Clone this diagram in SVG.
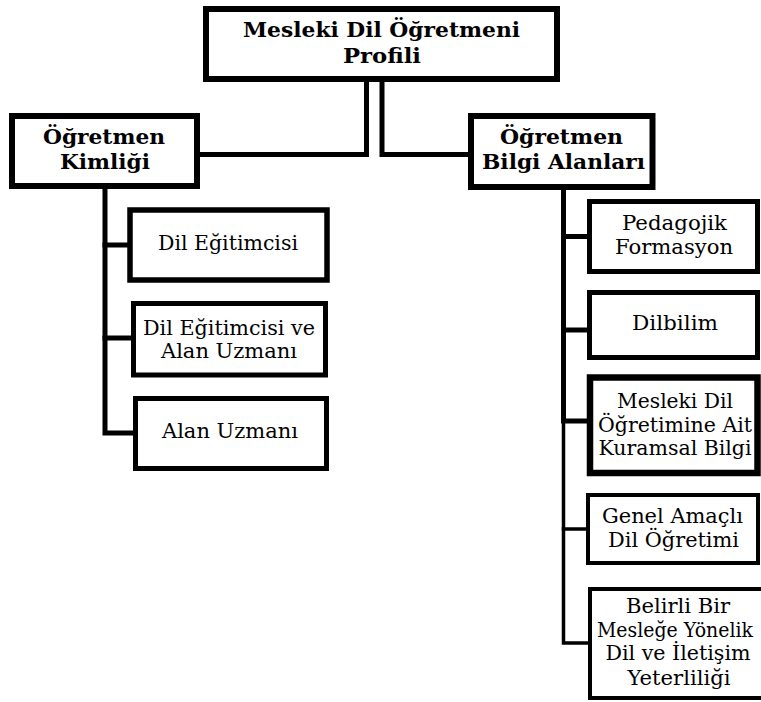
<svg xmlns="http://www.w3.org/2000/svg" width="761" height="702" viewBox="0 0 761 702">
<style>
  .box { fill: #ffffff; stroke: #000000; }
  .t { font-family: "DejaVu Serif", "Liberation Serif", serif; font-size: 21px; fill: #000000; text-anchor: middle; }
  .b { font-weight: bold; }
  .c { fill: none; stroke: #000000; stroke-linejoin: miter; stroke-linecap: square; }
</style>
<rect width="761" height="702" fill="#ffffff"/>
<g id="connectors">
  <polyline class="c" stroke-width="5" points="366.5,82 366.5,154.5 200,154.5"/>
  <polyline class="c" stroke-width="5" points="382,82 382,154.5 468,154.5"/>
  <polyline class="c" stroke-width="5" points="105,189 105,433 133,433"/>
  <line class="c" stroke-width="5" x1="105" y1="245" x2="127" y2="245"/>
  <line class="c" stroke-width="5" x1="105" y1="338" x2="131" y2="338"/>
  <polyline class="c" stroke-width="5" points="563.5,190 563.5,421 587,421"/>
  <line class="c" stroke-width="5" x1="563.5" y1="236.5" x2="587" y2="236.5"/>
  <line class="c" stroke-width="5" x1="563.5" y1="330" x2="587" y2="330"/>
  <polyline class="c" stroke-width="3.5" points="563.5,421 563.5,643 588,643"/>
  <line class="c" stroke-width="3.5" x1="563.5" y1="529" x2="586" y2="529"/>
</g>
<g id="root">
  <rect class="box" stroke-width="6" x="206" y="9" width="351" height="70"/>
  <text class="t b" x="381.5" y="37" textLength="277" lengthAdjust="spacingAndGlyphs">Mesleki Dil Öğretmeni</text>
  <text class="t b" x="382" y="63" textLength="78" lengthAdjust="spacingAndGlyphs">Profili</text>
</g>
<g id="ogretmen-kimligi">
  <rect class="box" stroke-width="6" x="12" y="116" width="185" height="70"/>
  <text class="t b" x="104" y="144" textLength="122" lengthAdjust="spacingAndGlyphs">Öğretmen</text>
  <text class="t b" x="105" y="169" textLength="90" lengthAdjust="spacingAndGlyphs">Kimliği</text>
</g>
<g id="dil-egitimcisi">
  <rect class="box" stroke-width="5.5" x="130" y="210" width="197" height="70"/>
  <text class="t" x="228" y="250" textLength="140" lengthAdjust="spacingAndGlyphs">Dil Eğitimcisi</text>
</g>
<g id="dil-egitimcisi-ve-alan-uzmani">
  <rect class="box" stroke-width="5" x="133.5" y="303.5" width="192" height="71.5"/>
  <text class="t" x="229" y="335" textLength="172" lengthAdjust="spacingAndGlyphs">Dil Eğitimcisi ve</text>
  <text class="t" x="229" y="358" textLength="136" lengthAdjust="spacingAndGlyphs">Alan Uzmanı</text>
</g>
<g id="alan-uzmani">
  <rect class="box" stroke-width="5" x="135.5" y="398.5" width="191" height="70"/>
  <text class="t" x="230" y="438" textLength="136" lengthAdjust="spacingAndGlyphs">Alan Uzmanı</text>
</g>
<g id="ogretmen-bilgi-alanlari">
  <rect class="box" stroke-width="6" x="471" y="116" width="181.5" height="71"/>
  <text class="t b" x="561.5" y="144" textLength="123" lengthAdjust="spacingAndGlyphs">Öğretmen</text>
  <text class="t b" x="563.5" y="169" textLength="163" lengthAdjust="spacingAndGlyphs">Bilgi Alanları</text>
</g>
<g id="pedagojik-formasyon">
  <rect class="box" stroke-width="5" x="589.5" y="201.5" width="168" height="70"/>
  <text class="t" x="674.5" y="230" textLength="105" lengthAdjust="spacingAndGlyphs">Pedagojik</text>
  <text class="t" x="674" y="254" textLength="118" lengthAdjust="spacingAndGlyphs">Formasyon</text>
</g>
<g id="dilbilim">
  <rect class="box" stroke-width="5" x="589.5" y="292.5" width="168" height="65"/>
  <text class="t" x="675" y="330" textLength="86" lengthAdjust="spacingAndGlyphs">Dilbilim</text>
</g>
<g id="mesleki-dil-ogretimine-ait-kuramsal-bilgi">
  <rect class="box" stroke-width="6.5" x="590" y="377.5" width="167.5" height="95.5"/>
  <text class="t" x="675" y="408" textLength="116" lengthAdjust="spacingAndGlyphs">Mesleki Dil</text>
  <text class="t" x="675" y="432" textLength="154" lengthAdjust="spacingAndGlyphs">Öğretimine Ait</text>
  <text class="t" x="675" y="455" textLength="153" lengthAdjust="spacingAndGlyphs">Kuramsal Bilgi</text>
</g>
<g id="genel-amacli-dil-ogretimi">
  <rect class="box" stroke-width="4" x="588" y="495" width="170" height="68"/>
  <text class="t" x="672.5" y="523" textLength="141" lengthAdjust="spacingAndGlyphs">Genel Amaçlı</text>
  <text class="t" x="673.5" y="547" textLength="131" lengthAdjust="spacingAndGlyphs">Dil Öğretimi</text>
</g>
<g id="belirli-bir-meslege-yonelik">
  <rect class="box" stroke-width="4" x="590" y="589" width="182" height="109"/>
  <text class="t" x="678" y="613" textLength="104" lengthAdjust="spacingAndGlyphs">Belirli Bir</text>
  <text class="t" x="675" y="637" textLength="156" lengthAdjust="spacingAndGlyphs">Mesleğe Yönelik</text>
  <text class="t" x="678" y="660" textLength="145" lengthAdjust="spacingAndGlyphs">Dil ve İletişim</text>
  <text class="t" x="679" y="685" textLength="103" lengthAdjust="spacingAndGlyphs">Yeterliliği</text>
</g>
</svg>
